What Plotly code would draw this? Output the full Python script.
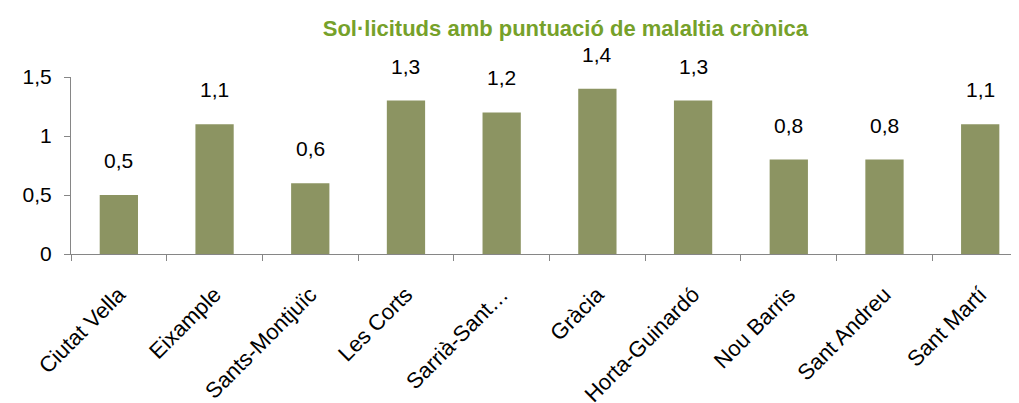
import plotly.graph_objects as go

categories = ["Ciutat Vella", "Eixample", "Sants-Montjuïc", "Les Corts", "Sarrià-Sant…",
              "Gràcia", "Horta-Guinardó", "Nou Barris", "Sant Andreu", "Sant Martí"]
values = [0.5, 1.1, 0.6, 1.3, 1.2, 1.4, 1.3, 0.8, 0.8, 1.1]
title_text = "Sol·licituds amb puntuació de malaltia crònica"

labels = [f"{v:.1f}".replace(".", ",") for v in values]

fig = go.Figure(go.Bar(
    x=categories, y=values, width=0.4,
    marker=dict(color="#8c9462", line=dict(width=0)),
    cliponaxis=False,
))

for c, v, t in zip(categories, values, labels):
    fig.add_annotation(x=c, y=v, text=t, showarrow=False, yanchor="bottom",
                       yshift=21, font=dict(size=21, color="#000000"))

fig.update_layout(
    width=1019, height=403,
    margin=dict(l=63, r=9, t=69, b=157),
    paper_bgcolor="white", plot_bgcolor="white",
    separators=",.",
    font=dict(family="Liberation Sans, Arial, sans-serif", color="#000000"),
    title=dict(text=f"<b>{title_text}</b>", x=0.547, xanchor="center", y=0.95, yanchor="middle",
               font=dict(size=22, color="#76a12a")),
    showlegend=False,
)
fig.update_xaxes(
    range=[-0.5, 9.395], showline=True, linecolor="#868686", linewidth=1,
    ticks="outside", tickson="boundaries", ticklen=6, tickcolor="#868686",
    tickangle=-45, tickfont=dict(size=22), ticklabelstandoff=18,
    showgrid=False, automargin=False,
)
fig.update_yaxes(
    range=[0, 1.5], tickvals=[0, 0.5, 1, 1.5], showline=True, linecolor="#868686", linewidth=1,
    ticks="outside", ticklen=6, tickcolor="#868686", tickfont=dict(size=21),
    ticklabelstandoff=8,
    showgrid=False, zeroline=False, automargin=False,
)
fig.write_html("out.html")
